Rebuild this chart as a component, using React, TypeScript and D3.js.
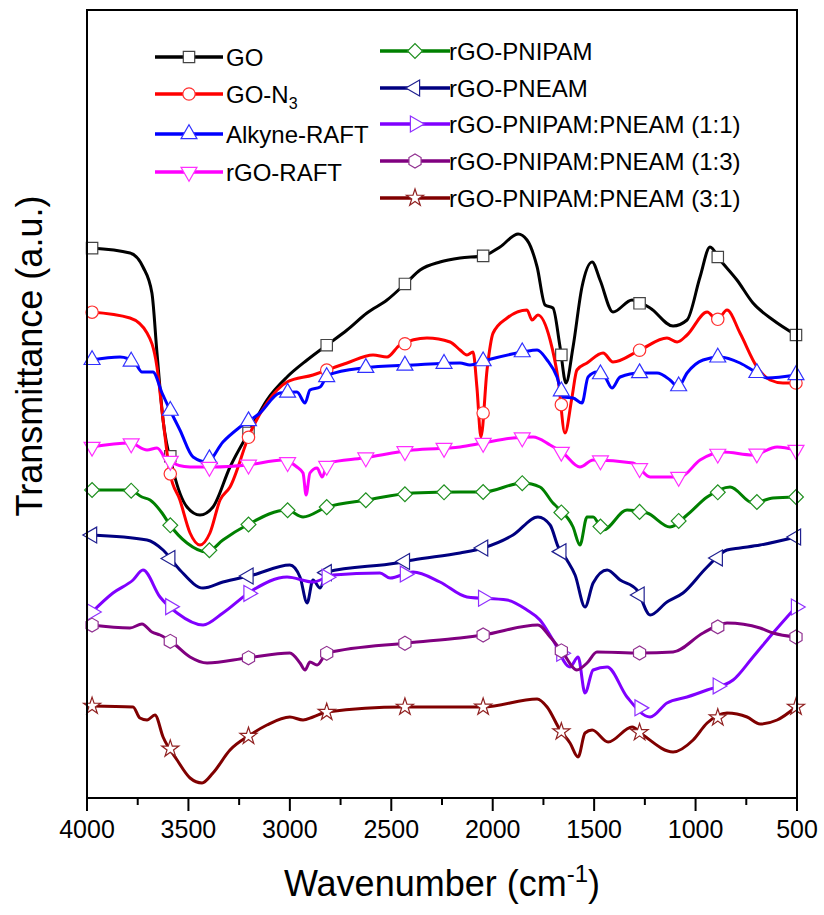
import React from 'react';
import * as d3 from 'd3';

// FTIR spectra, values in arbitrary transmittance units (offset stacked)
const goData: [number, number][] = [
  [3980, 550], [3788, 545], [3724, 531], [3680, 505], [3655, 445], [3625, 378], [3576, 328],
  [3507, 291], [3443, 283], [3379, 291], [3295, 331], [3196, 368], [3113, 398], [3014, 421],
  [2915, 438], [2817, 453], [2718, 468], [2620, 485], [2521, 498], [2422, 516], [2358, 528],
  [2260, 536], [2161, 540], [2048, 542], [1964, 551], [1875, 564], [1831, 558], [1781, 531],
  [1742, 493], [1703, 490], [1668, 451], [1639, 415], [1604, 451], [1560, 511], [1510, 536],
  [1471, 518], [1407, 486], [1313, 498], [1224, 490], [1111, 472], [1042, 478], [978, 521],
  [929, 551], [879, 538], [796, 518], [717, 495], [618, 478], [505, 463],
];
const goN3Data: [number, number][] = [
  [3980, 486], [3788, 480], [3704, 465], [3655, 431], [3625, 378], [3591, 325], [3542, 298],
  [3492, 265], [3443, 253], [3394, 265], [3344, 298], [3295, 311], [3196, 365], [3113, 395],
  [3014, 416], [2886, 423], [2817, 428], [2718, 435], [2590, 443], [2521, 441], [2457, 453],
  [2324, 460], [2210, 456], [2161, 448], [2127, 443], [2097, 446], [2078, 411], [2058, 361],
  [2028, 428], [1998, 465], [1929, 480], [1831, 488], [1806, 478], [1777, 483], [1717, 458],
  [1677, 418], [1644, 365], [1609, 401], [1585, 428], [1535, 435], [1456, 445], [1407, 436],
  [1274, 448], [1141, 460], [1091, 456], [1042, 463], [943, 486], [894, 478], [845, 488],
  [781, 465], [697, 431], [633, 418], [569, 415], [505, 415],
];
const alkyneData: [number, number][] = [
  [3980, 438], [3837, 441], [3763, 435], [3729, 426], [3675, 426], [3630, 405], [3591, 388],
  [3542, 368], [3477, 341], [3408, 336], [3330, 356], [3246, 371], [3147, 385], [3049, 405],
  [2965, 406], [2925, 395], [2901, 408], [2851, 411], [2812, 423], [2639, 430], [2393, 433],
  [2161, 435], [2112, 433], [2028, 438], [1851, 446], [1781, 448], [1732, 438], [1683, 421],
  [1653, 401], [1604, 400], [1560, 395], [1530, 421], [1486, 426], [1446, 421], [1412, 410],
  [1372, 421], [1274, 425], [1190, 425], [1126, 418], [1086, 411], [1042, 425], [963, 438],
  [879, 441], [781, 435], [697, 425], [648, 420], [505, 423],
];
const rgoRaftData: [number, number][] = [
  [3980, 351], [3788, 355], [3704, 348], [3655, 350], [3606, 338], [3492, 331], [3379, 331],
  [3211, 333], [3034, 338], [2965, 331], [2935, 325], [2920, 303], [2901, 325], [2866, 330],
  [2841, 321], [2812, 335], [2639, 340], [2393, 348], [2161, 351], [2048, 355], [1900, 360],
  [1801, 361], [1717, 353], [1653, 345], [1570, 331], [1505, 338], [1308, 335], [1224, 321],
  [1076, 321], [978, 338], [864, 346], [717, 343], [598, 351], [505, 348],
];
const pnipamData: [number, number][] = [
  [3980, 308], [3788, 308], [3729, 301], [3689, 298], [3630, 285], [3591, 273], [3507, 255],
  [3408, 246], [3330, 258], [3211, 273], [3014, 288], [2935, 281], [2817, 291], [2620, 298],
  [2393, 305], [2161, 306], [2048, 306], [1851, 315], [1767, 311], [1703, 295], [1683, 291],
  [1604, 271], [1570, 253], [1535, 281], [1505, 281], [1456, 268], [1338, 288], [1239, 285],
  [1126, 271], [1042, 283], [943, 301], [830, 311], [717, 295], [618, 300], [505, 301],
];
const pneamData: [number, number][] = [
  [3980, 263], [3704, 258], [3625, 248], [3542, 228], [3428, 210], [3330, 216], [3182, 223],
  [3000, 233], [2950, 221], [2915, 195], [2886, 218], [2851, 210], [2817, 226], [2472, 235],
  [2393, 238], [2161, 245], [2048, 250], [1900, 263], [1777, 281], [1717, 273], [1677, 251],
  [1634, 238], [1594, 223], [1545, 191], [1505, 215], [1436, 228], [1372, 218], [1289, 208],
  [1224, 183], [1141, 196], [1062, 205], [943, 231], [845, 248], [781, 250], [682, 253],
  [505, 261],
];
const mix11Data: [number, number][] = [
  [3980, 185], [3872, 205], [3773, 218], [3724, 228], [3640, 201], [3556, 185], [3428, 173],
  [3330, 185], [3182, 208], [3014, 221], [2886, 216], [2787, 223], [2556, 225], [2506, 220],
  [2393, 226], [2260, 216], [2127, 201], [1929, 198], [1831, 188], [1767, 178], [1703, 158],
  [1619, 131], [1579, 141], [1545, 105], [1505, 128], [1436, 131], [1338, 101], [1224, 81],
  [1141, 95], [1042, 101], [943, 108], [815, 118], [717, 141], [618, 165], [505, 191],
];
const mix13Data: [number, number][] = [
  [3980, 173], [3788, 170], [3729, 174], [3680, 166], [3640, 163], [3576, 155], [3492, 141],
  [3408, 135], [3211, 140], [3000, 145], [2950, 135], [2925, 128], [2901, 136], [2866, 133],
  [2817, 145], [2422, 155], [2161, 160], [2048, 163], [1777, 173], [1717, 161], [1653, 145],
  [1585, 128], [1535, 135], [1486, 146], [1274, 145], [1111, 146], [963, 165], [845, 175],
  [682, 170], [618, 165], [505, 161],
];
const mix31Data: [number, number][] = [
  [3980, 92], [3773, 91], [3739, 80], [3704, 78], [3665, 83], [3625, 61], [3556, 38],
  [3492, 20], [3433, 15], [3379, 25], [3295, 48], [3196, 63], [3113, 73], [3000, 81],
  [2935, 78], [2886, 81], [2817, 86], [2442, 91], [2161, 91], [2048, 91], [1781, 99],
  [1732, 91], [1668, 68], [1619, 55], [1579, 41], [1545, 65], [1510, 68], [1431, 56],
  [1313, 71], [1259, 63], [1111, 46], [1012, 58], [943, 75], [845, 85], [746, 81],
  [682, 74], [598, 78], [505, 91],
];

const seriesNames = [
  'GO', 'GO-N3', 'Alkyne-RAFT', 'rGO-RAFT', 'rGO-PNIPAM', 'rGO-PNEAM',
  'rGO-PNIPAM:PNEAM (1:1)', 'rGO-PNIPAM:PNEAM (1:3)', 'rGO-PNIPAM:PNEAM (3:1)',
];
const seriesData = [goData, goN3Data, alkyneData, rgoRaftData, pnipamData, pneamData, mix11Data, mix13Data, mix31Data];
const seriesColors = ['#000000', '#ff0000', '#0000ff', '#ff00ff', '#008000', '#000080', '#8000ff', '#800080', '#800000'];
const markerStroke = ['#444444', '#ff3030', '#3030ff', '#ff30ff', '#209020', '#202090', '#9030ff', '#903090', '#902020'];
const seriesMarkers = ['square', 'circle', 'up', 'down', 'diamond', 'left', 'right', 'hexagon', 'star'];
const markerCounts = [10, 10, 19, 19, 19, 10, 10, 10, 10];

const xTicks = [4000, 3500, 3000, 2500, 2000, 1500, 1000, 500];
const xMinorTicks = [3750, 3250, 2750, 2250, 1750, 1250, 750];

const W = 824, H = 915;
const left = 87, right = 797, top = 10, bottom = 798;
const font = 'Liberation Sans, Arial, sans-serif';

function markerPath(kind: string): string {
  if (kind === 'square') return d3.symbol(d3.symbolSquare, 130)() as string;
  if (kind === 'circle') return d3.symbol(d3.symbolCircle, 120)() as string;
  if (kind === 'diamond') return d3.symbol(d3.symbolSquare, 110)() as string;
  if (kind === 'star') return d3.symbol(d3.symbolStar, 90)() as string;
  if (kind === 'hexagon') {
    const r = 7;
    const pts = d3.range(6).map(i => {
      const a = Math.PI / 6 + (i * Math.PI) / 3;
      return [r * Math.cos(a), r * Math.sin(a)];
    });
    return 'M' + pts.map(p => p.join(',')).join('L') + 'Z';
  }
  return d3.symbol(d3.symbolTriangle, 110)() as string;
}
function markerRotate(kind: string): number {
  if (kind === 'down') return 180;
  if (kind === 'left') return -90;
  if (kind === 'right') return 90;
  if (kind === 'diamond') return 45;
  return 0;
}

const App = () => {
  const x = d3.scaleLinear().domain([4000, 500]).range([left, right]);
  const y = d3.scaleLinear().domain([0, 788]).range([bottom, top]);
  const line = d3.line<[number, number]>()
    .x(d => x(d[0]))
    .y(d => y(d[1]))
    .curve(d3.curveMonotoneX);

  const markerAt = (data: [number, number][], n: number) => {
    const wn = d3.range(n).map(i => 3975 - (i * 3470) / (n - 1));
    const xs = data.map(d => d[0]).slice().reverse();
    const ys = data.map(d => d[1]).slice().reverse();
    const interp = d3.scaleLinear().domain(xs).range(ys);
    return wn.map(w => [w, interp(w)] as [number, number]);
  };

  const legendCol1 = [0, 1, 2, 3];
  const legendCol2 = [4, 5, 6, 7, 8];
  const col1Y = [57, 94, 134, 172];
  const col2Y = [51, 88, 124, 161, 198];

  const legendLabel = (i: number) => {
    if (i === 1) {
      return (<>GO-N<tspan fontSize={16} dy={6}>3</tspan></>);
    }
    return seriesNames[i];
  };

  const legendItem = (i: number, x0: number, x1: number, ty: number, tx: number) => (
    <g key={'lg' + i}>
      <line x1={x0} x2={x1} y1={ty} y2={ty} stroke={seriesColors[i]} strokeWidth={3.5} />
      <path d={markerPath(seriesMarkers[i])}
        transform={`translate(${(x0 + x1) / 2},${ty}) rotate(${markerRotate(seriesMarkers[i])})`}
        fill="#fff" stroke={markerStroke[i]} strokeWidth={1.2} />
      <text x={tx} y={ty + 9} fontSize={24} fontFamily={font} fill="#000">{legendLabel(i)}</text>
    </g>
  );

  return (
    <svg width={W} height={H} style={{ position: 'absolute', left: 0, top: 0, background: '#fff' }}>
      <rect x={0} y={0} width={W} height={H} fill="#fff" />
      {seriesData.map((data, i) => (
        <g key={seriesNames[i]}>
          <path d={line(data) as string} fill="none" stroke={seriesColors[i]} strokeWidth={3} strokeLinejoin="round" />
          {markerAt(data, markerCounts[i]).map((p, j) => (
            <path key={j} d={markerPath(seriesMarkers[i])}
              transform={`translate(${x(p[0])},${y(p[1])}) rotate(${markerRotate(seriesMarkers[i])})`}
              fill="#fff" stroke={markerStroke[i]} strokeWidth={1.2} />
          ))}
        </g>
      ))}

      {/* frame */}
      <rect x={left} y={top} width={right - left} height={bottom - top} fill="none" stroke="#000" strokeWidth={2} />

      {/* x axis ticks */}
      {xTicks.map(t => (
        <g key={t}>
          <line x1={x(t)} x2={x(t)} y1={bottom} y2={bottom + 13} stroke="#000" strokeWidth={2} />
          <text x={x(t)} y={838} textAnchor="middle" fontSize={25} fontFamily={font}>{t}</text>
        </g>
      ))}
      {xMinorTicks.map(t => (
        <line key={t} x1={x(t)} x2={x(t)} y1={bottom} y2={bottom + 7} stroke="#000" strokeWidth={2} />
      ))}

      <text x={(left + right) / 2 + 0} y={896} textAnchor="middle" fontSize={36} fontFamily={font}>
        Wavenumber (cm<tspan fontSize={24} dy={-14}>-1</tspan><tspan dy={14}>)</tspan>
      </text>
      <text transform={`translate(42,${(top + bottom) / 2 - 48}) rotate(-90)`} textAnchor="middle" fontSize={36} fontFamily={font}>
        Transmittance (a.u.)
      </text>

      {legendCol1.map((i, k) => legendItem(i, 155, 223, col1Y[k], 226))}
      {legendCol2.map((i, k) => legendItem(i, 380, 450, col2Y[k], 449))}
    </svg>
  );
};

export default App;
